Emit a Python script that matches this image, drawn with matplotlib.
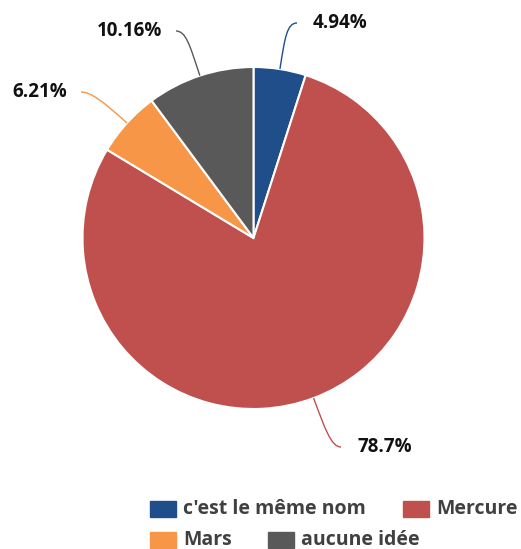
import matplotlib.pyplot as plt
import numpy as np
from matplotlib.path import Path
from matplotlib.patches import PathPatch, Rectangle

# data
labels = ["c'est le même nom", "Mercure", "Mars", "aucune idée"]
values = [4.94, 78.7, 6.21, 10.16]
value_texts = ["4.94%", "78.7%", "6.21%", "10.16%"]
colors = ["#1f4e8a", "#c0504d", "#f79646", "#595959"]

W, H = 521, 549
cx, cy, r = 253.5, 238, 171   # pie centre / radius in pixels (y from top)

# label anchor (pixel) and side of the pie the label sits on
label_pos = [(313, 23, "left"), (357, 447, "left"), (67, 92, "right"), (162, 31, "right")]


def Y(py):
    return H - py


fig = plt.figure(figsize=(W / 100, H / 100), dpi=100)
ax = fig.add_axes([0, 0, 1, 1])

ax.pie(values, colors=colors, startangle=90, counterclock=False,
       center=(cx, Y(cy)), radius=r,
       wedgeprops=dict(edgecolor="white", linewidth=1.5))

# value labels with soft connectors
cum = np.cumsum([0] + values) / sum(values)
for i, v in enumerate(values):
    theta = np.deg2rad(360 * (cum[i] + cum[i + 1]) / 2)
    dx, dy = np.sin(theta), np.cos(theta)
    p0 = (cx + r * dx, Y(cy) + r * dy)
    p1 = (cx + (r + 32) * dx, Y(cy) + (r + 32) * dy)
    lx, ly, side = label_pos[i]
    gap = -16 if side == "left" else 14
    p3 = (lx + gap, Y(ly))
    p2 = (p3[0] + (-10 if side == "left" else 10), Y(ly))
    path = Path([p0, p1, p2, p3], [Path.MOVETO, Path.CURVE4, Path.CURVE4, Path.CURVE4])
    ax.add_patch(PathPatch(path, fill=False, edgecolor=colors[i], linewidth=1))
    ax.text(lx, Y(ly), value_texts[i], ha=side, va="center",
            fontsize=13.5, fontweight="bold", family="Open Sans", color="#111111")

# legend laid out in rows like the original
leg_x = [150, 403, 150, 268]
leg_y = [509, 509, 540, 540]
for i, lab in enumerate(labels):
    ax.add_patch(Rectangle((leg_x[i], Y(leg_y[i]) - 8), 26, 16, color=colors[i]))
    ax.text(leg_x[i] + 33, Y(leg_y[i]), lab, ha="left", va="center",
            fontsize=14, fontweight="bold", family="Open Sans", color="#404040")

ax.set_xlim(0, W)
ax.set_ylim(0, H)
ax.axis("off")

fig.savefig("out.png", dpi=100)
